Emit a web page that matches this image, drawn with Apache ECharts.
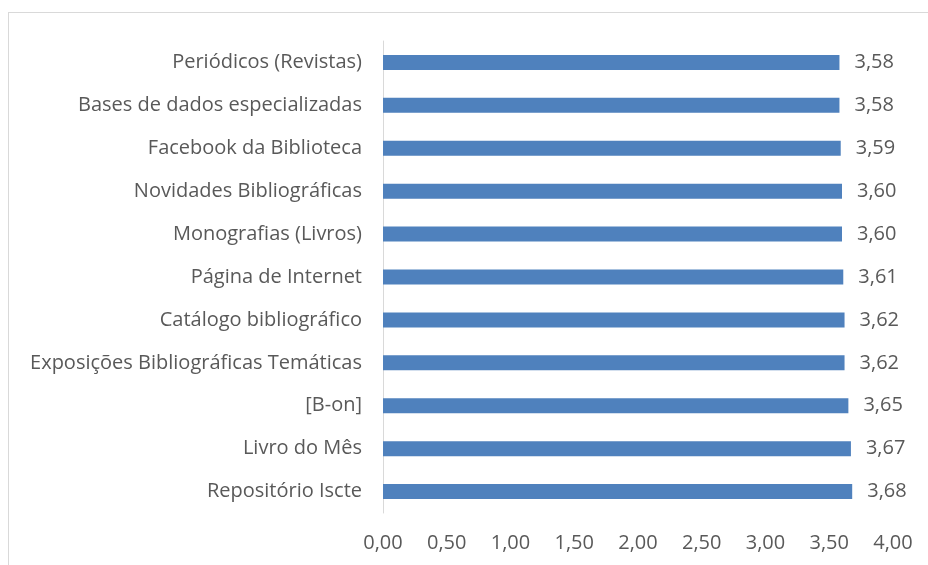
<!DOCTYPE html>
<html>
<head>
<meta charset="utf-8">
<script src="https://cdn.jsdelivr.net/npm/echarts@6/dist/echarts.min.js"></script>
<style>
  html, body { margin: 0; padding: 0; background: #fff; }
  #frame {
    position: absolute; left: 8px; top: 12px; width: 940px; height: 580px;
    border: 1px solid #d9d9d9; box-sizing: border-box;
  }
  #chart { position: absolute; left: 0; top: 0; width: 928px; height: 565px; }
</style>
</head>
<body>
<div id="frame"></div>
<div id="chart"></div>
<script>
// categories listed bottom to top, as the category axis draws them
var categories = [
  'Repositório Iscte',
  'Livro do Mês',
  '[B-on]',
  'Exposições Bibliográficas Temáticas',
  'Catálogo bibliográfico',
  'Página de Internet',
  'Monografias (Livros)',
  'Novidades Bibliográficas',
  'Facebook da Biblioteca',
  'Bases de dados especializadas',
  'Periódicos (Revistas)'
]
var values = [3.68, 3.67, 3.65, 3.62, 3.62, 3.61, 3.60, 3.60, 3.59, 3.58, 3.58]

var fontFamily = '"Open Sans", sans-serif'
var textColor = '#595959'

var chart = echarts.init(document.getElementById('chart'))
chart.setOption({
  animation: false,
  grid: { left: 383, right: 35, top: 41, bottom: 52 },
  xAxis: {
    type: 'value',
    min: 0,
    max: 4,
    interval: 0.5,
    axisLine: { show: false },
    axisTick: { show: false },
    splitLine: { show: false },
    axisLabel: {
      color: textColor,
      fontSize: 20,
      fontFamily: fontFamily,
      margin: 20,
      formatter: function(v) { return v.toFixed(2).replace('.', ',') }
    }
  },
  yAxis: {
    type: 'category',
    data: categories,
    axisLine: { show: true, lineStyle: { color: '#d9d9d9', width: 1 } },
    axisTick: { show: false },
    axisLabel: {
      color: textColor,
      fontSize: 20,
      fontFamily: fontFamily,
      margin: 21
    }
  },
  series: [{
    type: 'bar',
    data: values,
    barWidth: 15,
    itemStyle: { color: '#4f81bd' },
    label: {
      show: true,
      position: 'right',
      distance: 15,
      color: textColor,
      fontSize: 20,
      fontFamily: fontFamily,
      formatter: function(p) { return p.value.toFixed(2).replace('.', ',') }
    }
  }]
})
</script>
</body>
</html>
